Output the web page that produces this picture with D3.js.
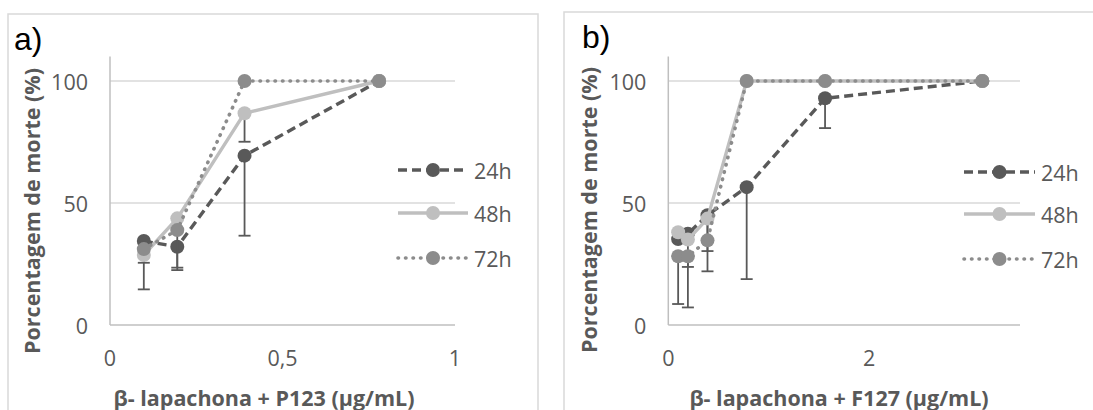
<!DOCTYPE html>
<html>
<head>
<meta charset="utf-8">
<script src="https://cdn.jsdelivr.net/npm/d3@7"></script>
<style>
  html, body { margin: 0; padding: 0; background: #fff; }
  svg { display: block; }
  text { font-family: "Open Sans", Lato, sans-serif; }
</style>
</head>
<body>
<svg id="chart" width="1093" height="410"></svg>
<script>
// ---------- data ----------
const seriesNames = ["24h", "48h", "72h"];

// Panel a) β-lapachona + P123
const concA = [0.098, 0.195, 0.39, 0.78];
const a24 = [34.4, 32.1, 69.4, 100];
const a48 = [28.7, 43.7, 86.8, 100];
const a72 = [31.1, 38.9, 100, 100];
const a24Err = [19.8, 9.6, 32.8, 0];
const a48Err = [3.2, 0, 11.7, 0];
const a72Err = [0, 15.4, 0, 0];
const xTicksA = [0, 0.5, 1];
const xTickLabelsA = ["0", "0,5", "1"];

// Panel b) β-lapachona + F127
const concB = [0.098, 0.195, 0.39, 0.78, 1.56, 3.125];
const b24 = [35.2, 37.4, 45.0, 56.5, 92.9, 100];
const b48 = [38.0, 35.0, 43.6, 100, 100, 100];
const b72 = [28.2, 28.2, 34.7, 100, 100, 100];
const b24Err = [0, 13.6, 23.0, 37.7, 12.2, 0];
const b48Err = [0, 0, 13.3, 0, 0, 0];
const b72Err = [19.6, 21.0, 0, 0, 0, 0];
const xTicksB = [0, 2];
const xTickLabelsB = ["0", "2"];

const yTicks = [0, 50, 100];
const yTickLabels = ["0", "50", "100"];

// ---------- styles ----------
const styles = {
  "24h": { color: "#595959", dash: "9,5", cap: "butt", width: 3.4 },
  "48h": { color: "#bfbfbf", dash: null, cap: "butt", width: 3.4 },
  "72h": { color: "#8c8c8c", dash: "0.5,7", cap: "round", width: 3.6 }
};
const errColor = "#595959";
const markerR = 7;
const fs = 21.5;

const svg = d3.select("#chart");

function drawPanel(cfg) {
  const g = svg.append("g");
  g.append("rect")
    .attr("x", cfg.box[0]).attr("y", cfg.box[1])
    .attr("width", cfg.box[2]).attr("height", cfg.box[3])
    .attr("fill", "#fff").attr("stroke", "#d9d9d9").attr("stroke-width", 1.5);

  const x = d3.scaleLinear().domain(cfg.xDomain).range(cfg.xRange);
  const y = d3.scaleLinear().domain([0, 110]).range([325, 325 - 2.44 * 110]);

  g.selectAll(".grid").data(yTicks.filter(t => t > 0)).enter().append("line")
    .attr("x1", x.range()[0]).attr("x2", x.range()[1])
    .attr("y1", d => y(d)).attr("y2", d => y(d))
    .attr("stroke", "#d9d9d9").attr("stroke-width", 1.5);

  g.append("line")
    .attr("x1", x.range()[0]).attr("x2", x.range()[0])
    .attr("y1", y(0)).attr("y2", y(110))
    .attr("stroke", "#bfbfbf").attr("stroke-width", 1.5);
  g.append("line")
    .attr("x1", x.range()[0]).attr("x2", x.range()[1])
    .attr("y1", y(0)).attr("y2", y(0))
    .attr("stroke", "#bfbfbf").attr("stroke-width", 1.5);

  g.selectAll(".ylab").data(yTicks).enter().append("text")
    .attr("x", x.range()[0] - 22).attr("y", d => y(d))
    .attr("text-anchor", "end").attr("dominant-baseline", "central")
    .attr("font-size", fs).attr("fill", "#595959")
    .text((d, i) => yTickLabels[i]);

  g.selectAll(".xlab").data(cfg.xTicks).enter().append("text")
    .attr("x", d => x(d)).attr("y", 357)
    .attr("text-anchor", "middle").attr("dominant-baseline", "central")
    .attr("font-size", fs).attr("fill", "#595959")
    .text((d, i) => cfg.xTickLabels[i]);

  g.append("text")
    .attr("x", cfg.xTitlePos[0]).attr("y", cfg.xTitlePos[1])
    .attr("text-anchor", "middle").attr("dominant-baseline", "central")
    .attr("font-size", fs).attr("font-weight", "bold").attr("fill", "#595959")
    .text(cfg.xTitle);
  g.append("text")
    .attr("transform", `translate(${cfg.yTitlePos[0]},${cfg.yTitlePos[1]}) rotate(-90)`)
    .attr("text-anchor", "middle").attr("dominant-baseline", "central")
    .attr("font-size", fs).attr("font-weight", "bold").attr("fill", "#595959")
    .text("Porcentagem de morte (%)");

  g.append("text")
    .attr("x", cfg.labelPos[0]).attr("y", cfg.labelPos[1])
    .style("font-family", "'Liberation Sans', Arial, sans-serif")
    .attr("font-size", 32).attr("fill", "#000")
    .text(cfg.label);

  cfg.series.forEach((s) => {
    const st = styles[s.name];
    const pts = cfg.conc.map((c, i) => ({ x: c, y: s.values[i], e: s.err[i] }));
    const eb = g.append("g");
    pts.filter(p => p.e > 0).forEach(p => {
      eb.append("line")
        .attr("x1", x(p.x)).attr("x2", x(p.x))
        .attr("y1", y(p.y)).attr("y2", y(p.y - p.e))
        .attr("stroke", errColor).attr("stroke-width", 1.8);
      eb.append("line")
        .attr("x1", x(p.x) - 6).attr("x2", x(p.x) + 6)
        .attr("y1", y(p.y - p.e)).attr("y2", y(p.y - p.e))
        .attr("stroke", errColor).attr("stroke-width", 1.8);
    });
    const line = d3.line().x(d => x(d.x)).y(d => y(d.y));
    g.append("path").datum(pts)
      .attr("d", line).attr("fill", "none")
      .attr("stroke", st.color).attr("stroke-width", st.width)
      .attr("stroke-dasharray", st.dash).attr("stroke-linecap", st.cap)
      .attr("stroke-linejoin", "round");
    g.selectAll(null).data(pts).enter().append("circle")
      .attr("cx", d => x(d.x)).attr("cy", d => y(d.y)).attr("r", markerR)
      .attr("fill", st.color);
  });

  seriesNames.forEach((name, i) => {
    const st = styles[name];
    const ly = cfg.legendY[i];
    const lx0 = cfg.legendX[0], lx1 = cfg.legendX[1];
    g.append("line")
      .attr("x1", lx0).attr("x2", lx1).attr("y1", ly).attr("y2", ly)
      .attr("stroke", st.color).attr("stroke-width", st.width)
      .attr("stroke-dasharray", st.dash).attr("stroke-linecap", st.cap);
    g.append("circle")
      .attr("cx", (lx0 + lx1) / 2).attr("cy", ly).attr("r", markerR).attr("fill", st.color);
    g.append("text")
      .attr("x", lx1 + 6).attr("y", ly)
      .attr("dominant-baseline", "central")
      .attr("font-size", fs).attr("fill", "#595959")
      .text(name);
  });
}

drawPanel({
  box: [8, 14, 530, 420],
  xDomain: [0, 1], xRange: [110, 455],
  xTicks: xTicksA, xTickLabels: xTickLabelsA,
  xTitle: "β- lapachona + P123 (µg/mL)", xTitlePos: [264, 397],
  yTitlePos: [31, 211],
  label: "a)", labelPos: [14, 50],
  conc: concA,
  series: [
    { name: "24h", values: a24, err: a24Err },
    { name: "48h", values: a48, err: a48Err },
    { name: "72h", values: a72, err: a72Err }
  ],
  legendX: [398, 468], legendY: [170, 213, 258]
});

drawPanel({
  box: [564, 12, 560, 420],
  xDomain: [0, 3.5], xRange: [668.3, 1020],
  xTicks: xTicksB, xTickLabels: xTickLabelsB,
  xTitle: "β- lapachona + F127 (µg/mL)", xTitlePos: [839, 397],
  yTitlePos: [588, 210],
  label: "b)", labelPos: [582, 48],
  conc: concB,
  series: [
    { name: "24h", values: b24, err: b24Err },
    { name: "48h", values: b48, err: b48Err },
    { name: "72h", values: b72, err: b72Err }
  ],
  legendX: [964, 1035], legendY: [172, 214, 259]
});
</script>
</body>
</html>
